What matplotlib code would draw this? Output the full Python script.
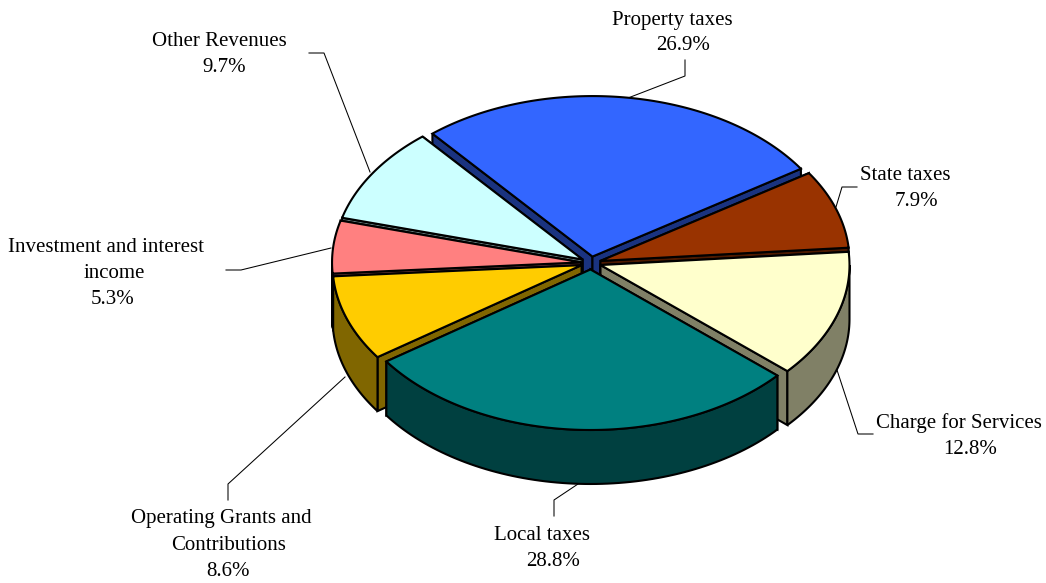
"""Exploded 3D-style pie of revenue shares, built from polygons."""

import numpy as np
from matplotlib import pyplot as plt
from matplotlib.colors import to_rgb

CATEGORIES = [
    "Property taxes",
    "State taxes",
    "Charge for Services",
    "Local taxes",
    "Operating Grants and\nContributions",
    "Investment and interest\nincome",
    "Other Revenues",
]
SHARES = [26.9, 7.9, 12.8, 28.8, 8.6, 5.3, 9.7]
COLORS = ["#3366FF", "#993300", "#FFFFCC", "#008080", "#FFCC00", "#FF8080", "#CCFFFF"]

# pie geometry in pixels
CX, CY = 591, 263
RX, RY = 249, 160.5
DEPTH = 54
EXPLODE = 10
START = -40  # degrees clockwise from 12 o'clock
LW = 1.5

# back to front, so nearer slices cover the walls of farther ones
DRAW_ORDER = [0, 1, 6, 5, 4, 2, 3]

# label line centres and leader polylines, one entry per category
LABEL_POS = [
    [(672, 20), (683, 45)],
    [(905, 176), (916, 202)],
    [(959, 423), (970, 449)],
    [(542, 536), (553, 562)],
    [(221, 519), (229, 545), (228, 571)],
    [(106, 247), (114, 273), (113, 299)],
    [(219, 41), (224, 67)],
]
LEADERS = [
    [(628, 98), (685, 76), (685, 60)],
    [(836, 207), (842, 187), (857, 187)],
    [(837, 370), (858, 434), (873, 434)],
    [(578, 484), (554, 500), (554, 516)],
    [(345, 377), (228, 484), (228, 500)],
    [(331, 248), (241, 270), (226, 270)],
    [(370, 172), (324, 53), (309, 53)],
]


def rim(apex, deg):
    t = np.radians(deg)
    return apex[0] + RX * np.sin(t), apex[1] - RY * np.cos(t)


def shade(color):
    return tuple(c * 0.5 for c in to_rgb(color))


def face(ax, xs, ys, color):
    ax.fill(xs, ys, facecolor=color, edgecolor="black", lw=LW, joinstyle="miter")


def draw_slice(ax, a0, a1, color):
    mid = np.radians((a0 + a1) / 2)
    apex = (CX + EXPLODE * np.sin(mid), CY - EXPLODE * 0.65 * np.cos(mid))
    dark = shade(color)

    # radial walls, the one whose rim sits higher goes first
    for a in sorted((a0, a1), key=lambda d: rim(apex, d)[1]):
        x, y = rim(apex, a)
        face(
            ax,
            [apex[0], x, x, apex[0]],
            [apex[1], y, y + DEPTH, apex[1] + DEPTH],
            dark,
        )

    # outer wall, only the part facing the viewer
    lo, hi = max(a0, 90), min(a1, 270)
    if hi > lo:
        x, y = rim(apex, np.linspace(lo, hi, 80))
        face(ax, np.r_[x, x[::-1]], np.r_[y, y[::-1] + DEPTH], dark)

    # top
    x, y = rim(apex, np.linspace(a0, a1, 120))
    face(ax, np.r_[apex[0], x], np.r_[apex[1], y], color)


if __name__ == "__main__":
    plt.rcParams["font.family"] = "Liberation Serif"

    fig = plt.figure(figsize=(10.46, 5.83), dpi=100)
    ax = fig.add_axes([0, 0, 1, 1])
    ax.set_xlim(0, 1046)
    ax.set_ylim(583, 0)
    ax.axis("off")

    edges = START + np.r_[0, np.cumsum(SHARES)] * 3.6
    for i in DRAW_ORDER:
        draw_slice(ax, edges[i], edges[i + 1], COLORS[i])

    for line in LEADERS:
        xs, ys = zip(*line)
        ax.plot(xs, ys, color="black", lw=0.75, zorder=0)

    for name, share, pos in zip(CATEGORIES, SHARES, LABEL_POS):
        rows = name.split("\n") + [f"{share:.1f}%"]
        for row, (x, y) in zip(rows, pos):
            ax.text(x, y, row, fontsize=15, ha="center", va="center")

    fig.savefig("out.png", dpi=100)
